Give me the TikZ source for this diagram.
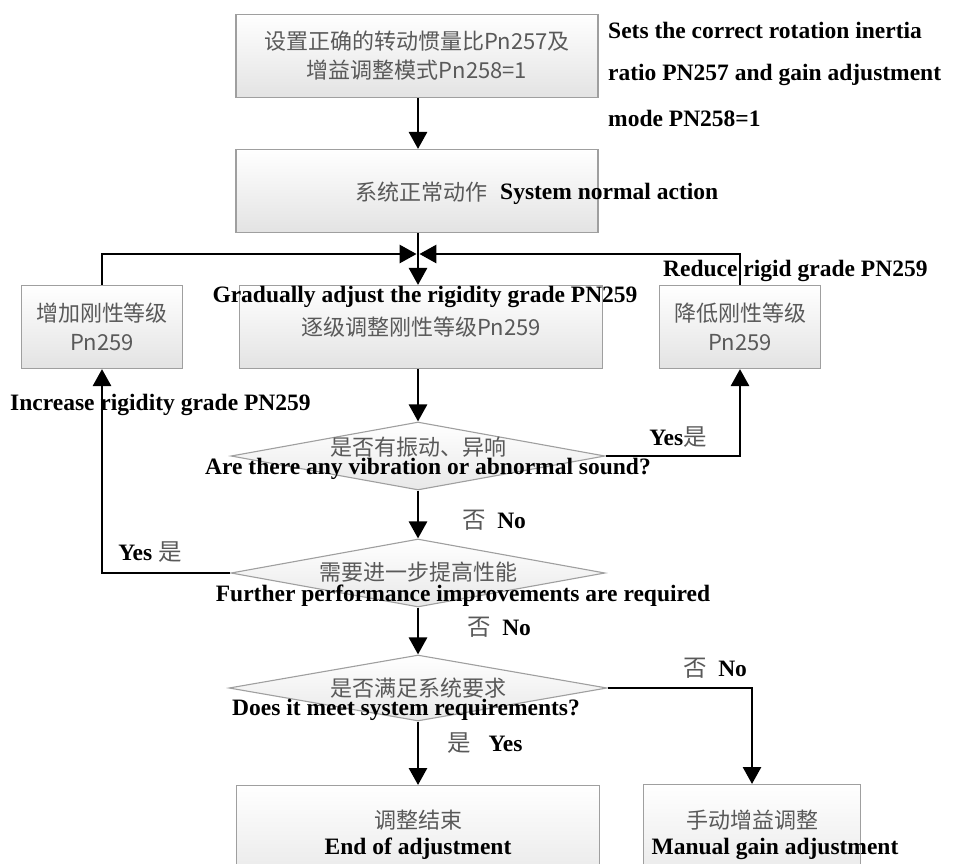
\documentclass[tikz,border=0pt]{standalone}
\usepackage{fontspec}
\setmainfont{Liberation Serif}
\newfontfamily\cjk{Noto Sans CJK SC}
\usetikzlibrary{shapes.geometric,arrows.meta}
\newcommand\zhc[1]{{\cjk\mdseries\color{black!65}#1}}
\begin{document}
\begin{tikzpicture}[x=1pt,y=-1pt,
 box/.style={draw=gray!75, line width=1.1pt, top color=white, bottom color=gray!22, inner sep=0pt, minimum height=83pt},
 dia/.style={diamond, draw=gray!75, line width=1.1pt, top color=white, bottom color=gray!18, inner sep=0pt},
 arr/.style={line width=2.8pt, -{Triangle[length=17pt,width=18pt]}},
 en/.style={font=\fontsize{23.5}{28}\selectfont\bfseries, inner sep=0pt},
 zh/.style={font=\cjk\fontsize{22}{29}\selectfont, text=black!65, inner sep=0pt},
]
\clip (0,0) rectangle (954,863);
\fill[white] (0,0) rectangle (954,863);

% boxes
\node[box, zh, minimum width=362pt, align=center] (top) at (417,56) {设置正确的转动惯量比Pn257及\\增益调整模式Pn258=1};
\node[box, minimum width=362pt] (sys) at (417,191) {};
\node[box, zh, minimum width=363pt] (grad) at (421,327) {逐级调整刚性等级Pn259};
\node[box, zh, minimum width=161pt, align=center] (inc) at (102,327) {增加刚性等级\\Pn259};
\node[box, zh, minimum width=161pt, align=center] (red) at (740,327) {降低刚性等级\\Pn259};
\node[dia, minimum width=374pt, minimum height=68pt] (d1) at (418,456) {};
\node[dia, minimum width=374pt, minimum height=68pt] (d2) at (418,573) {};
\node[dia, minimum width=378pt, minimum height=66pt] (d3) at (418,688) {};
\node[box, minimum width=363pt, minimum height=120pt, anchor=north] (end) at (418,785) {};
\node[box, minimum width=217pt, minimum height=120pt, anchor=north] (man) at (752,784) {};

% connectors
\coordinate (m) at (418,254);
\draw[arr] (d1.north |- top.south) -- (d1.north |- sys.north);
\draw[arr] (d1.north |- sys.south) -- (d1.north |- grad.north);
\draw[arr, shorten >=1.4pt] (inc.north) |- (m);
\draw[arr, shorten >=1.4pt] (red.north) |- (m);
\draw[arr] (d1.north |- grad.south) -- (d1.north);
\draw[arr] (d1.east) -| (red.south);
\draw[arr] (d1.south) -- (d2.north);
\draw[arr] (d2.west) -| (inc.south);
\draw[arr] (d2.south) -- (d3.north);
\draw[arr] (d3.east) -| (man.north);
\draw[arr] (d3.south) -- (end.north);

% texts
\node[en, anchor=west] (t1) at (608,30) {Sets the correct rotation inertia};
\node[en, anchor=west] (t2) at (608,75) {ratio PN257 and gain adjustment};
\node[en, anchor=west] (t3) at (608,118) {mode PN258=1};
\node[zh, anchor=east] (s1) at (488,192) {系统正常动作};
\node[en, anchor=west] (s2) at (500,194) {System normal action};
\node[en] (g1) at (425,297) {Gradually adjust the rigidity grade PN259};
\node[en, anchor=west] (r1) at (663,271) {Reduce rigid grade PN259};
\node[en, anchor=west] (i1) at (10,405) {Increase rigidity grade PN259};
\node[zh] (q1) at (418,447) {是否有振动、异响};
\node[en] (q1e) at (428,469) {Are there any vibration or abnormal sound?};
\node[en] (y1) at (678,437) {Yes\zhc{是}};
\node[en] (n1) at (494,520) {\zhc{否}\ \ No};
\node[zh] (q2) at (418,572) {需要进一步提高性能};
\node[en] (q2e) at (463,596) {Further performance improvements are required};
\node[en] (y2) at (150,552) {Yes \zhc{是}};
\node[en] (n2) at (499,627) {\zhc{否}\ \ No};
\node[zh] (q3) at (418,688) {是否满足系统要求};
\node[en] (q3e) at (406,710) {Does it meet system requirements?};
\node[en] (n3) at (715,668) {\zhc{否}\ \ No};
\node[en] (y3) at (485,743) {\zhc{是}\ \ \ Yes};
\node[zh] (e1) at (418,820) {调整结束};
\node[en] (e2) at (418,849) {End of adjustment};
\node[zh] (mz) at (752,820) {手动增益调整};
\node[en] (me) at (775,849) {Manual gain adjustment};
\end{tikzpicture}
\end{document}
